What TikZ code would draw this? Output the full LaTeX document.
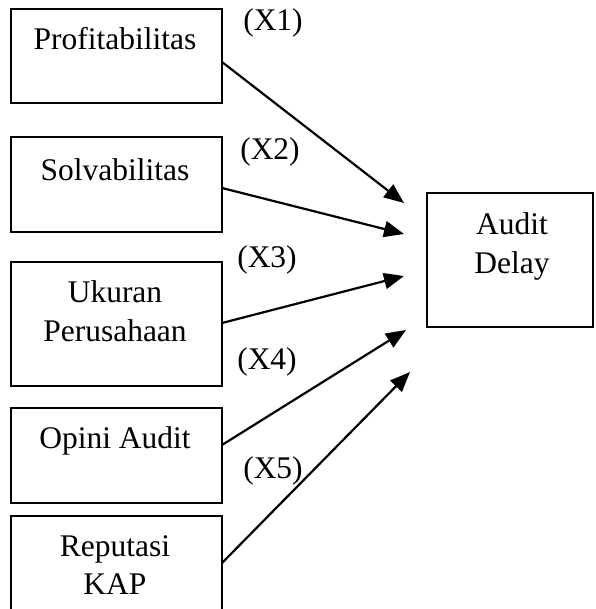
\documentclass[tikz,border=0pt]{standalone}
\usepackage{fontspec}
\setmainfont{Liberation Serif}
\usetikzlibrary{arrows.meta}
\begin{document}
\begin{tikzpicture}[x=1pt,y=-1pt,
  boxstyle/.style={draw=black,line width=1.8pt},
  txt/.style={font=\fontsize{31.5}{39}\selectfont,align=center,inner sep=0pt,anchor=base},
  lbl/.style={font=\fontsize{31.5}{39}\selectfont,inner sep=0pt,anchor=base},
  arr/.style={line width=2.2pt,-{Triangle[length=20pt,width=16pt]}}]
\useasboundingbox (0,0) rectangle (595,609);
\clip (0,0) rectangle (595,609);
% boxes
\draw[boxstyle] (11,9) rectangle (222,103);
\draw[boxstyle] (11,137) rectangle (222,232);
\draw[boxstyle] (11,262) rectangle (222,386);
\draw[boxstyle] (11,408) rectangle (222,503);
\draw[boxstyle] (11,516) rectangle (222,640);
\draw[boxstyle] (427,193) rectangle (593,327);
% texts
\node[txt] (t1) at (115,50) {Profitabilitas};
\node[txt] (t2) at (115,181) {Solvabilitas};
\node[txt] (t3a) at (115,302) {Ukuran};
\node[txt] (t3b) at (115,341) {Perusahaan};
\node[txt] (t4) at (115,448) {Opini Audit};
\node[txt] (t5a) at (115,556) {Reputasi};
\node[txt] (t5b) at (115,594) {KAP};
\node[txt] (ya) at (512,235) {Audit};
\node[txt] (yb) at (512,273) {Delay};
% labels
\node[lbl] (l1) at (273,31) {(X1)};
\node[lbl] (l2) at (270,160) {(X2)};
\node[lbl] (l3) at (267,267) {(X3)};
\node[lbl] (l4) at (267,369) {(X4)};
\node[lbl] (l5) at (273,478) {(X5)};
% connector endpoints
\coordinate (s1) at (222,62);
\coordinate (s2) at (222,188);
\coordinate (s3) at (222,323);
\coordinate (s4) at (222,445);
\coordinate (s5) at (222,563);
\coordinate (e1) at (404,203);
\coordinate (e2) at (404,234);
\coordinate (e3) at (404,276);
\coordinate (e4) at (406,330);
\coordinate (e5) at (410,372);
\draw[arr] (s1) -- (e1);
\draw[arr] (s2) -- (e2);
\draw[arr] (s3) -- (e3);
\draw[arr] (s4) -- (e4);
\draw[arr] (s5) -- (e5);
\end{tikzpicture}
\end{document}
